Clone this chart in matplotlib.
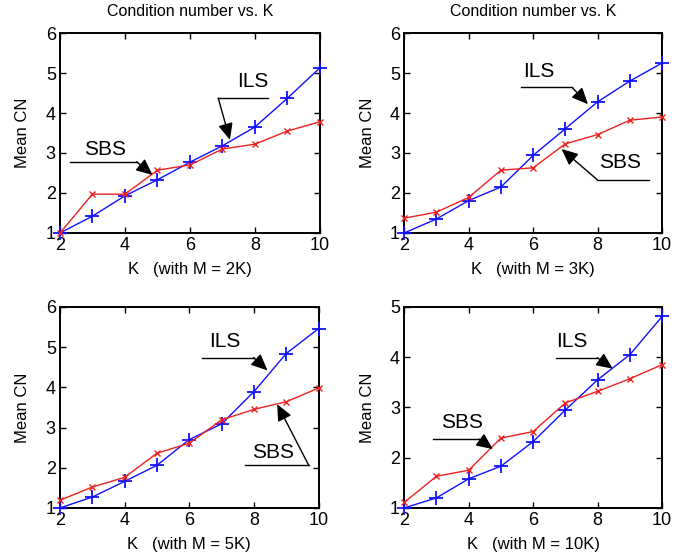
import numpy as np
import matplotlib
matplotlib.use("Agg")
import matplotlib.pyplot as plt

plt.rcParams['font.family'] = ['Liberation Sans', 'DejaVu Sans']

# Data
K = [2, 3, 4, 5, 6, 7, 8, 9, 10]

ils_2k = [1.0, 1.42, 1.93, 2.33, 2.77, 3.18, 3.65, 4.37, 5.13]
sbs_2k = [1.0, 1.97, 1.97, 2.57, 2.70, 3.10, 3.22, 3.55, 3.78]

ils_3k = [1.0, 1.35, 1.81, 2.15, 2.94, 3.61, 4.28, 4.80, 5.25]
sbs_3k = [1.37, 1.52, 1.89, 2.57, 2.63, 3.23, 3.46, 3.82, 3.90]

ils_5k = [1.0, 1.27, 1.66, 2.06, 2.70, 3.09, 3.89, 4.84, 5.46]
sbs_5k = [1.19, 1.52, 1.76, 2.36, 2.61, 3.19, 3.45, 3.64, 3.98]

ils_10k = [1.0, 1.20, 1.58, 1.83, 2.32, 2.95, 3.55, 4.05, 4.81]
sbs_10k = [1.11, 1.63, 1.75, 2.39, 2.52, 3.09, 3.32, 3.57, 3.85]

x_labels = ["K   (with M = 2K)", "K   (with M = 3K)",
            "K   (with M = 5K)", "K   (with M = 10K)"]


def label_arrow(ax, text, text_xy, line_x0, line_x1, line_y, start_x, tip):
    # text with an underline and a slanted arrow, like a MATLAB annotation
    ax.text(text_xy[0], text_xy[1], text, ha='center', va='center', fontsize=15)
    ax.plot([line_x0, line_x1], [line_y, line_y], color='black', lw=1.0)
    ax.annotate('', xy=tip, xytext=(start_x, line_y),
                arrowprops=dict(arrowstyle='-|>,head_length=1.0,head_width=0.45',
                                color='black', lw=1.0, shrinkA=0, shrinkB=0))


fig = plt.figure(figsize=(6.84, 5.6), dpi=100)

positions = [
    [0.0877, 0.584, 0.380, 0.357],
    [0.591, 0.584, 0.377, 0.357],
    [0.0877, 0.093, 0.378, 0.359],
    [0.591, 0.093, 0.377, 0.359],
]
ils_all = [ils_2k, ils_3k, ils_5k, ils_10k]
sbs_all = [sbs_2k, sbs_3k, sbs_5k, sbs_10k]
ymax = [6, 6, 6, 5]

axes = []
for i in range(4):
    ax = fig.add_axes(positions[i])
    ax.plot(K, ils_all[i], color='#1010ff', lw=1.0, marker='+', markersize=10,
            markeredgewidth=1.3, clip_on=False, zorder=3)
    ax.plot(K, sbs_all[i], color='#ee2020', lw=1.0, marker='x', markersize=5,
            markeredgewidth=1.0, clip_on=False, zorder=3)
    ax.set_xlim(2, 10)
    ax.set_ylim(1, ymax[i])
    ax.set_xticks([2, 4, 6, 8, 10])
    ax.set_yticks(range(1, ymax[i] + 1))
    ax.tick_params(direction='in', top=True, right=True, labelsize=13,
                   length=4, width=1.0, pad=3)
    for sp in ax.spines.values():
        sp.set_linewidth(1.4)
    ax.set_xlabel(x_labels[i], fontsize=12, labelpad=6)
    ax.set_ylabel("Mean CN", fontsize=12, labelpad=11)
    axes.append(ax)

axes[0].set_title("Condition number vs. K", fontsize=11.5, pad=12)
axes[1].set_title("Condition number vs. K", fontsize=11.5, pad=12)

label_arrow(axes[0], "ILS", (7.95, 4.79), 6.87, 8.41, 4.375, 6.87, (7.23, 3.33))
label_arrow(axes[0], "SBS", (3.38, 3.08), 2.31, 4.36, 2.78, 4.36, (4.85, 2.45))

label_arrow(axes[1], "ILS", (6.18, 5.04), 5.61, 7.21, 4.64, 7.21, (7.7, 4.22))
label_arrow(axes[1], "SBS", (8.7, 2.75), 7.99, 9.6, 2.33, 7.99, (6.88, 3.1))

label_arrow(axes[2], "ILS", (7.11, 5.13), 6.39, 7.99, 4.74, 7.99, (8.42, 4.42))
label_arrow(axes[2], "SBS", (8.6, 2.39), 7.73, 9.69, 2.07, 9.69, (8.72, 3.58))

label_arrow(axes[3], "ILS", (7.21, 4.31), 6.7, 7.99, 3.99, 7.99, (8.47, 3.77))
label_arrow(axes[3], "SBS", (3.8, 2.69), 2.88, 4.32, 2.37, 4.32, (4.75, 2.17))

fig.savefig("out.png", dpi=100)
